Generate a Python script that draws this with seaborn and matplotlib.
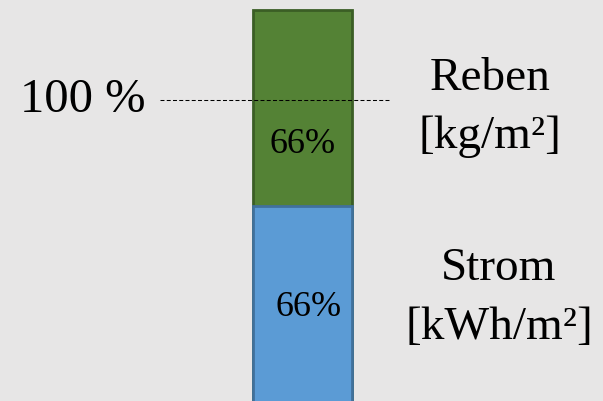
import numpy as np
import matplotlib
matplotlib.use("Agg")
import matplotlib.pyplot as plt
import seaborn as sns

# Segmente von unten nach oben
kategorien = ["Strom", "Reben"]
einheiten = ["[kWh/m²]", "[kg/m²]"]
werte = [1.02, 1.0]
prozent = ["66%", "66%"]
referenz = 1.56          # Lage der 100 %-Linie
referenz_text = "100 %"

farben = ["#5b9bd5", "#548235"]
kanten = ["#41719c", "#3b5e25"]
hintergrund = "#e7e6e6"

sns.set_theme(style="white")
plt.rcParams["font.family"] = ["Liberation Serif", "DejaVu Serif"]
plt.rcParams["text.color"] = "black"

fig = plt.figure(figsize=(6.03, 4.01), dpi=100, facecolor=hintergrund)
ax = fig.add_axes([0, 0, 1, 1])
ax.set_facecolor(hintergrund)

# gestapelt: erst die Summe, dann die unteren Teile darüber
oben = np.cumsum(werte)
for i in reversed(range(len(werte))):
    sns.barplot(x=["Anteil"], y=[oben[i]], color=farben[i], edgecolor=kanten[i],
                linewidth=2, width=0.8, saturation=1, ax=ax)

ax.set_xlim(-2.44, 2.43)
ax.set_ylim(0.02, 0.02 + 401 / 195.5)
ax.axis("off")

# 100 %-Linie
ax.axhline(referenz, xmin=160 / 603, xmax=389 / 603, color="black",
           lw=0.75, ls=(0, (3.8, 2.2)), zorder=5)
ax.text(0.242, referenz, referenz_text, transform=ax.get_yaxis_transform(),
        ha="right", va="center", fontsize=35, color="black")

# Prozentwerte in den Segmenten
ax.text(0.0, 1.33, prozent[1], ha="center", va="center", fontsize=26, color="black")
ax.text(0.05, 0.50, prozent[0], ha="center", va="center", fontsize=26, color="black")

# Beschriftung rechts
ax.text(490 / 603, 1.52, kategorien[1] + "\n" + einheiten[1],
        transform=ax.get_yaxis_transform(), ha="center", va="center",
        multialignment="center", fontsize=34, linespacing=1.5, color="black")
ax.text(499 / 603, 0.547, kategorien[0] + "\n" + einheiten[0],
        transform=ax.get_yaxis_transform(), ha="center", va="center",
        multialignment="center", fontsize=34, linespacing=1.5, color="black")

fig.savefig("out.png", dpi=100, facecolor=hintergrund)
